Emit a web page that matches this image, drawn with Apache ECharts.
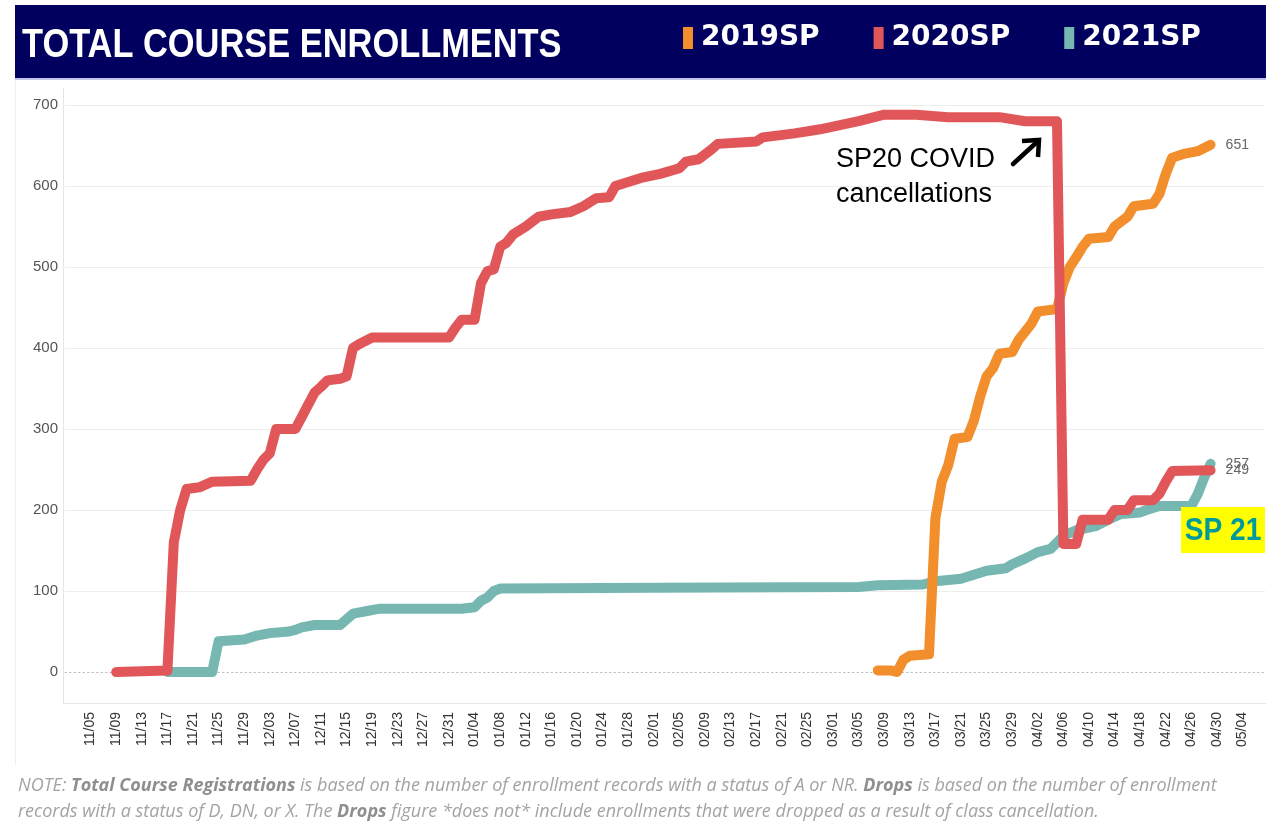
<!DOCTYPE html>
<html>
<head>
<meta charset="utf-8">
<script src="https://cdn.jsdelivr.net/npm/echarts@6/dist/echarts.min.js"></script>
<style>
html,body{margin:0;padding:0;background:#ffffff;}
#chart{width:1266px;height:822px;}
</style>
</head>
<body>
<div id="chart"></div>
<script>
// ---------------- DATA ----------------
const chartTitle = 'TOTAL COURSE ENROLLMENTS';
const seriesNames = ['2019SP', '2020SP', '2021SP'];

const dates2019SP = ['03/08','03/10','03/11','03/12','03/13','03/16','03/17','03/18','03/19','03/20','03/22','03/23','03/24','03/25','03/26','03/27','03/29','03/30','03/31','04/01','04/02','04/05','04/06','04/07','04/08','04/09','04/10','04/13','04/14','04/16','04/17','04/20','04/21','04/22','04/23','04/25','04/27','04/29'];
const values2019SP = [2,2,0,15,20,22,190,235,255,288,290,310,340,365,375,393,395,410,420,430,445,448,480,500,512,525,535,537,550,562,575,578,590,615,635,640,643,651];

const dates2020SP = ['11/09','11/17','11/18','11/19','11/20','11/22','11/24','11/30','12/01','12/02','12/03','12/04','12/07','12/08','12/09','12/10','12/11','12/12','12/14','12/15','12/16','12/17','12/19','12/31','01/01','01/02','01/04','01/05','01/06','01/07','01/08','01/09','01/10','01/12','01/14','01/16','01/19','01/21','01/23','01/25','01/26','01/28','01/30','02/02','02/05','02/06','02/08','02/10','02/11','02/17','02/18','02/23','02/27','03/05','03/09','03/14','03/19','03/27','03/31','04/05','04/06','04/08','04/09','04/13','04/14','04/16','04/17','04/20','04/21','04/22','04/23','04/29'];
const values2020SP = [0,2,160,200,226,228,235,236,250,262,270,300,300,315,330,345,352,360,362,365,400,405,413,413,425,435,435,480,495,497,525,530,540,550,562,565,568,575,585,586,600,605,610,615,622,630,633,645,652,655,660,665,670,680,688,688,685,685,680,680,158,158,188,188,200,200,212,212,220,235,248,249];

const dates2021SP = ['11/17','11/24','11/25','11/29','12/01','12/03','12/06','12/07','12/08','12/10','12/14','12/15','12/16','12/18','12/20','01/02','01/04','01/05','01/06','01/07','01/08','02/01','03/05','03/08','03/15','03/17','03/21','03/23','03/25','03/28','03/29','03/31','04/02','04/04','04/05','04/06','04/08','04/11','04/13','04/15','04/18','04/19','04/21','04/26','04/27','04/28','04/29'];
const values2021SP = [0,0,38,40,45,48,50,52,55,58,58,65,72,75,78,78,80,88,92,100,103,104,105,107,108,112,115,120,125,128,133,140,148,152,160,168,175,180,188,195,197,200,205,205,220,240,257];

const xTickLabels = ['11/05','11/09','11/13','11/17','11/21','11/25','11/29','12/03','12/07','12/11','12/15','12/19','12/23','12/27','12/31','01/04','01/08','01/12','01/16','01/20','01/24','01/28','02/01','02/05','02/09','02/13','02/17','02/21','02/25','03/01','03/05','03/09','03/13','03/17','03/21','03/25','03/29','04/02','04/06','04/10','04/14','04/18','04/22','04/26','04/30','05/04'];
const yTickValues = [0,100,200,300,400,500,600,700];

// ---------------- HELPERS ----------------
function dayIndex(md) {
  const [m, d] = md.split('/').map(Number);
  const y = m >= 11 ? 2020 : 2021;
  return Math.round((Date.UTC(y, m - 1, d) - Date.UTC(2020, 10, 5)) / 86400000);
}
const labelByDay = {};
xTickLabels.forEach(l => { labelByDay[dayIndex(l)] = l; });
function pairs(dates, values) { return dates.map((d, i) => [dayIndex(d), values[i]]); }

const colors = { '2019SP': '#F28E2B', '2020SP': '#E15759', '2021SP': '#76B7B2' };
const seriesData = {
  '2019SP': pairs(dates2019SP, values2019SP),
  '2020SP': pairs(dates2020SP, values2020SP),
  '2021SP': pairs(dates2021SP, values2021SP)
};
const zOrder = { '2019SP': 3, '2020SP': 4, '2021SP': 2 };

const chart = echarts.init(document.getElementById('chart'), null, { renderer: 'canvas' });

const option = {
  animation: false,
  backgroundColor: '#ffffff',
  textStyle: { fontFamily: 'Liberation Sans, Arial, sans-serif' },
  legend: {
    data: seriesNames,
    left: 683, top: 24, padding: 0,
    icon: 'rect', itemWidth: 10, itemHeight: 22, itemGap: 54,
    selectedMode: false,
    textStyle: { color: '#ffffff', fontSize: 28, fontWeight: 'bold', fontFamily: 'DejaVu Sans, sans-serif', padding: [0, 0, 0, 3] }
  },
  grid: { left: 65, right: 1, top: 105, bottom: 150, outerBoundsMode: 'none' },
  xAxis: {
    type: 'value', min: -4, max: 183.5, interval: 4,
    axisLine: { show: true, lineStyle: { color: '#bdbdbd', type: [1.5, 3], width: 1 } },
    axisTick: { show: false },
    splitLine: { show: false },
    axisLabel: {
      rotate: 90, margin: 40, fontSize: 14, color: '#333333',
      formatter: v => (labelByDay[v] !== undefined ? labelByDay[v] : '')
    }
  },
  yAxis: {
    type: 'value', min: yTickValues[0], max: yTickValues[yTickValues.length - 1], interval: 100,
    axisLine: { show: false }, axisTick: { show: false },
    axisLabel: { fontSize: 15, color: '#555555', margin: 7 },
    splitLine: { show: true, lineStyle: { color: ['rgba(0,0,0,0)','#ededed','#ededed','#ededed','#ededed','#ededed','#ededed','#ededed'], width: 1 } }
  },
  series: seriesNames.map(name => ({
    name: name,
    type: 'line',
    data: seriesData[name],
    showSymbol: false,
    clip: false,
    z: zOrder[name],
    color: colors[name],
    lineStyle: { width: 10, cap: 'round', join: 'round', color: colors[name] },
    endLabel: { show: true, distance: 15, color: '#666666', fontSize: 14, formatter: p => p.value[1] },
    emphasis: { disabled: true }
  })),
  graphic: [
    { type: 'rect', z: -10, silent: true, shape: { x: 15, y: 5, width: 1251, height: 73 }, style: { fill: '#02005e' } },
    { type: 'rect', z: -10, silent: true, shape: { x: 15, y: 78, width: 1251, height: 2 }, style: { fill: '#c3c3ec' } },
    { type: 'text', z: 10, silent: true, x: 22, y: 46, scaleX: 0.86,
      style: { text: chartTitle, fill: '#ffffff', font: 'bold 40px "Liberation Sans", Arial, sans-serif', verticalAlign: 'middle' } },
    { type: 'line', z: -10, silent: true, shape: { x1: 15.5, y1: 80, x2: 15.5, y2: 765 }, style: { stroke: '#f0f0f0', lineWidth: 1 } },
    { type: 'line', z: -10, silent: true, shape: { x1: 63.5, y1: 88, x2: 63.5, y2: 703 }, style: { stroke: '#e6e6e6', lineWidth: 1 } },
    { type: 'line', z: -10, silent: true, shape: { x1: 63, y1: 703.5, x2: 1266, y2: 703.5 }, style: { stroke: '#e6e6e6', lineWidth: 1 } },
    { type: 'text', z: 20, silent: true, x: 836, y: 142,
      style: { text: 'SP20 COVID\ncancellations', fill: '#000000', font: '27px "Liberation Sans", Arial, sans-serif', lineHeight: 35 } },
    { type: 'line', z: 20, silent: true, shape: { x1: 1013, y1: 164, x2: 1037, y2: 142 }, style: { stroke: '#000000', lineWidth: 4.5, lineCap: 'round' } },
    { type: 'polyline', z: 20, silent: true, shape: { points: [[1022, 141], [1039, 140], [1038, 157]] }, style: { stroke: '#000000', lineWidth: 4.5, lineJoin: 'miter', fill: null } },
    { type: 'rect', z: 20, silent: true, shape: { x: 1181, y: 507, width: 84, height: 46 }, style: { fill: '#ffff00' } },
    { type: 'text', z: 21, silent: true, x: 1223, y: 531, scaleX: 0.88,
      style: { text: 'SP 21', fill: '#009a9a', font: 'bold 32px "Liberation Sans", Arial, sans-serif', align: 'center', verticalAlign: 'middle' } },
    { type: 'text', z: 20, silent: true, x: 18, y: 773,
      style: {
        text: '{n|NOTE: }{b|Total Course Registrations}{n| is based on the number of enrollment records with a status of A or NR. }{b|Drops}{n| is based on the number of enrollment}\n{n|records with a status of D, DN, or X. The }{b|Drops}{n| figure *does not* include enrollments that were dropped as a result of class cancellation.}',
        rich: {
          n: { fill: '#a3a3a3', font: 'italic 18px "Open Sans", sans-serif', lineHeight: 26 },
          b: { fill: '#8f8f8f', font: 'italic bold 18px "Open Sans", sans-serif', lineHeight: 26 }
        }
      } }
  ]
};
chart.setOption(option);
</script>
</body>
</html>
